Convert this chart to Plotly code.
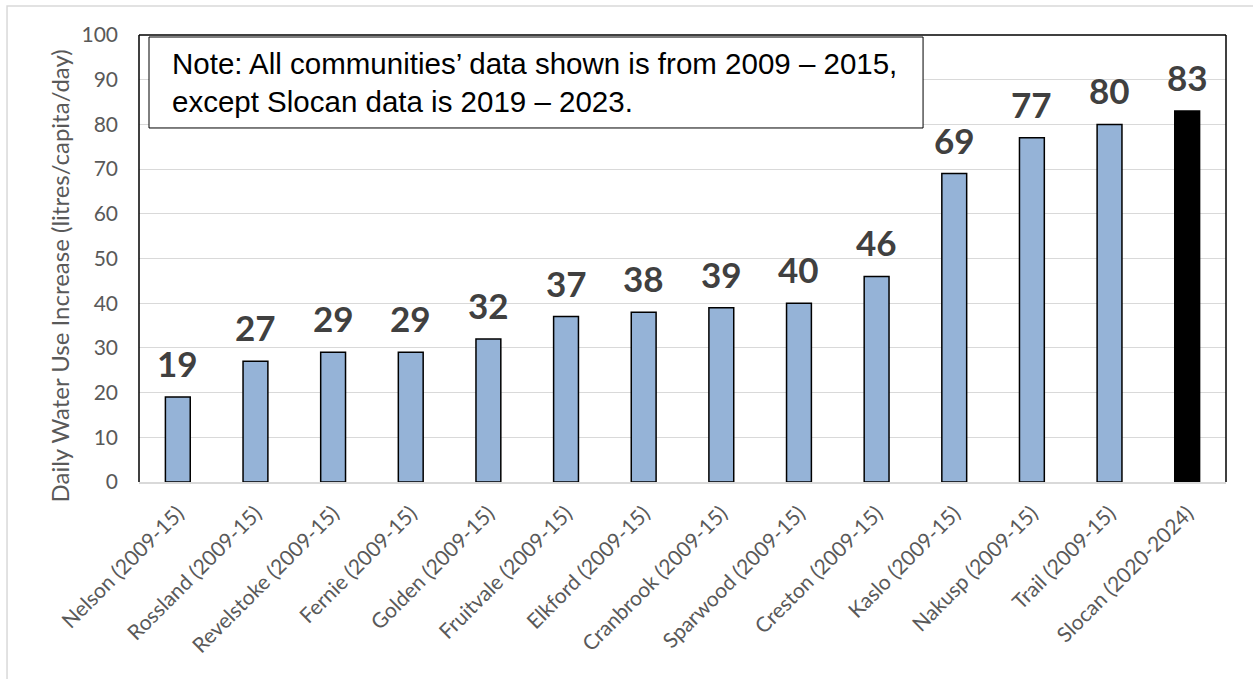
import plotly.graph_objects as go

# Community water use data (litres/capita/day increase)
communities = [
    "Nelson (2009-15)", "Rossland (2009-15)", "Revelstoke (2009-15)",
    "Fernie (2009-15)", "Golden (2009-15)", "Fruitvale (2009-15)",
    "Elkford (2009-15)", "Cranbrook (2009-15)", "Sparwood (2009-15)",
    "Creston (2009-15)", "Kaslo (2009-15)", "Nakusp (2009-15)",
    "Trail (2009-15)", "Slocan (2020-2024)",
]
increase = [19, 27, 29, 29, 32, 37, 38, 39, 40, 46, 69, 77, 80, 83]
y_ticks = [0, 10, 20, 30, 40, 50, 60, 70, 80, 90, 100]

note_lines = [
    "Note: All communities\u2019 data shown is from 2009 \u2013 2015,",
    "except Slocan data is 2019 \u2013 2023.",
]

BLUE = "#95b3d7"
LABEL = "#404040"
TICK = "#595959"
GRID = "#d9d9d9"
FONT = "Lato, Calibri, sans-serif"

colors = [BLUE] * (len(communities) - 1) + ["#000000"]

fig = go.Figure(
    go.Bar(
        x=communities,
        y=increase,
        width=0.32,
        marker=dict(color=colors, line=dict(color="#000000", width=1.5)),
        hoverinfo="x+y",
    )
)

# value labels above each bar
for name, val in zip(communities, increase):
    fig.add_annotation(
        x=name, y=val, xref="x", yref="y",
        text=f"<b>{val}</b>", showarrow=False,
        xanchor="center", yanchor="bottom", yshift=11,
        font=dict(family=FONT, size=35, color=LABEL),
    )

# y-axis title
fig.add_annotation(
    x=-0.0736, y=0.462, xref="paper", yref="paper",
    text="Daily Water Use Increase (litres/capita/day)",
    textangle=-90, showarrow=False, xanchor="center", yanchor="middle",
    font=dict(family=FONT, size=24, color=TICK),
)

# note box
fig.add_shape(
    type="rect", xref="paper", yref="paper",
    x0=0.0092, x1=0.7213, y0=0.792, y1=0.9955,
    line=dict(color="#000000", width=1), fillcolor="#ffffff", layer="above",
)
for line, ypx in zip(note_lines, [64, 101]):
    fig.add_annotation(
        x=0.0285, y=(482 - ypx) / 447, xref="paper", yref="paper",
        text=line, showarrow=False, xanchor="left", yanchor="middle",
        font=dict(family="Arial, Liberation Sans, sans-serif", size=29.5, color="#000000"),
    )

# plot-area frame: left, top, right in black
for x0, y0, x1, y1 in [(0, 0, 0, 1), (0, 1, 1, 1), (1, 0, 1, 1)]:
    fig.add_shape(type="line", xref="paper", yref="paper",
                  x0=x0, y0=y0, x1=x1, y1=y1,
                  line=dict(color="#000000", width=1.5), layer="above")

# outer chart border
fig.add_shape(type="rect", xref="paper", yref="paper",
              x0=-0.1214, x1=1.04, y0=-0.47, y1=1.0649,
              line=dict(color=GRID, width=1.5), layer="below")

fig.update_layout(
    width=1253, height=679,
    margin=dict(l=139, r=27, t=35, b=197),
    paper_bgcolor="#ffffff", plot_bgcolor="#ffffff",
    showlegend=False,
    bargap=0.68,
    xaxis=dict(
        tickangle=-45, showgrid=False, showline=True, linecolor=GRID, linewidth=1.5,
        ticks="", ticklabelstandoff=9,
        tickfont=dict(family=FONT, size=21, color=TICK),
        fixedrange=True,
    ),
    yaxis=dict(
        range=[0, 100], tickvals=y_ticks, showgrid=True, gridcolor=GRID, gridwidth=1,
        zeroline=False, showline=False, ticks="", ticklabelstandoff=20,
        tickfont=dict(family=FONT, size=21, color=TICK),
        fixedrange=True,
    ),
)

fig.write_html("out.html")
